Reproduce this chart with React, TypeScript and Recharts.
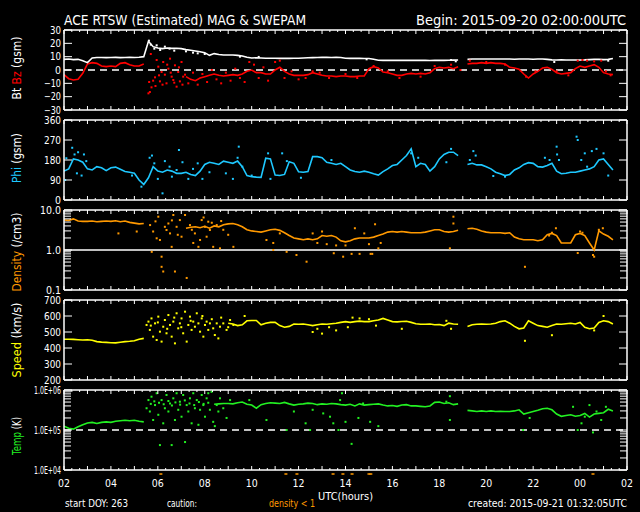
import React from "react";
import { ComposedChart, Line, Scatter, XAxis, YAxis, ReferenceLine } from "recharts";

const FONT = "'DejaVu Sans', sans-serif";
const W = 640;
const H = 512;
const PLOT_LEFT = 64;
const PLOT_RIGHT = 627;
const WHITE = "#ffffff";
const RED = "#ff0000";
const CYAN = "#1ec8ff";
const ORANGE = "#ff9900";
const YELLOW = "#ffff00";
const GREEN = "#22f022";

// trend arrays are sampled every 0.2 h, starting 02:00 UTC
const STEP = 0.2;

const hourTicks = [0, 2, 4, 6, 8, 10, 12, 14, 16, 18, 20, 22, 24];
const hourLabels = ["02", "04", "06", "08", "10", "12", "14", "16", "18", "20", "22", "00", "02"];

const bTicks = [-30, -20, -10, 0, 10, 20, 30];
const bLabels = ["\u221230", "\u221220", "\u221210", "0", "10", "20", "30"];
const phiTicks = [0, 90, 180, 270, 360];
const phiLabels = ["0", "90", "180", "270", "360"];
const densTicks = [0.1, 1, 10];
const densLabels = ["0.1", "1.0", "10.0"];
const densMinor = [0.2, 0.3, 0.4, 0.5, 0.6, 0.7, 0.8, 0.9, 2, 3, 4, 5, 6, 7, 8, 9];
const speedTicks = [200, 300, 400, 500, 600, 700];
const speedLabels = ["200", "300", "400", "500", "600", "700"];
const tempTicks = [1e4, 1e5, 1e6];
const tempLabels = ["1.0E+04", "1.0E+05", "1.0E+06"];
const tempMinor = [2e4, 3e4, 4e4, 5e4, 6e4, 7e4, 8e4, 9e4, 2e5, 3e5, 4e5, 5e5, 6e5, 7e5, 8e5, 9e5];

const btTrend = [
  8, 8.2, 7.8, 8, 7,
  5.5, 9, 9.4, 9.4, 9.3,
  9.4, 9.5, 9.3, 9.4, 9.5,
  9.4, 9.6, 10, 21.5, 17.5,
  16.5, 16, 16.5, 16.2, 16.3,
  16, 15.3, 14.8, 14.3, 13.7,
  13, 11, 12.3, 11.6, 11.3,
  11.3, 11.2, 11, 10.5, 9.5,
  9, 9.2, 9, 8.8, 8.8,
  8.8, 8.7, 8.8, 8.7, 8.8,
  8.8, 9, 9.2, 9.3, 9.4,
  9.5, 9.5, 9.4, 9.5, 9.4,
  8.8, 8.7, 8.7, 8.7, 8.6,
  8.6, 8, 7.3, 7.2, 7.2,
  7.2, 7.2, 7.2, 7.2, 7.2,
  7.2, 7.2, 7.2, 7.1, 7.2,
  7.2, 7.2, 7.3, 7.4, 7.5,
  null, 8, 8.2, 8.3, 8.3,
  8.3, 8.3, 8.2, 8.2, 8.2,
  8.2, 8.1, 8.2, 8.2, 8.2,
  8.1, 8.2, 8.2, 8, 7.6,
  7.5, 7.6, 7.5, 7.5, 7.5,
  7.5, 7.6, 7.8, 8, 8,
  7.8, 8, 8.6,
];

const btScatter = [
  [3.62, 22], [3.7, 19], [3.85, 16], [3.95, 18.5], [4.1, 15], [4.3, 17.5], [4.5, 16],
  [4.7, 14.5], [5.2, 14], [5.5, 13], [5.7, 12.5], [6.0, 12], [7.5, 10], [8.3, 9.8],
  [12.9, 8], [16.5, 7.5], [16.7, 6.5], [20.9, 6], [23.2, 7],
];

const bzTrend = [
  -3.5, -6.5, -7.5, -7, -2.5,
  4.5, 5.5, 5, 3, 2.5,
  3, 2.5, 5, 5.5, 4,
  3, 3, 4.5, null, null,
  null, null, null, null, null,
  null, -5, -7, -8, -6,
  -5, -4, -3, -4, -4.5,
  -4, -3.5, -4, -3, -1,
  0, -2, -2, -3, -3,
  0, 2, -1, -3, -4,
  -4, -4, -3.5, -2, -3,
  -4, -4.5, -4.5, -5, -4.5,
  -4.5, -5, -5, -4.5, -4.5,
  1, 2.5, 1.5, -1.5, -2,
  -3, -4, -4, -3, -2.5,
  -3, -2.5, -3, -2, 1,
  2, 1.5, 2, 1, 2.5,
  null, 4.5, 5, 5, 5.5,
  5, 5.5, 5, 5, 4.5,
  2, 1.5, 0.5, -3, -6,
  -3, -1, 1.5, 2, 0.5,
  -2, -3, -2.5, -2, 1,
  3, 2, 3, 4, 2,
  -2, -3, -3.5,
];

const bzScatter = [
  [3.6, -17.5], [3.66, -16.5], [3.73, -13], [3.8, -8], [3.88, -5.5], [3.95, 7.5], [4.02, 2.5],
  [4.09, -8.5], [4.16, -1.5], [4.23, 6], [4.3, -3.5], [4.37, -10], [4.45, 1], [4.52, 8.5],
  [4.59, -5], [4.66, -7.5], [4.73, 3.5], [4.8, -12.5], [4.87, -1.5], [4.94, -8.5], [5.01, 6],
  [5.08, -5], [5.16, -3.5], [3.63, -9], [3.7, 12], [3.9, -12], [4.05, -4], [4.2, -11],
  [4.4, 4], [4.55, -2], [4.7, -9.5], [4.9, 2], [5.05, -11],
  [5.3, -10], [5.5, -2], [5.7, -11], [5.9, -3], [6.1, -9], [6.3, 0], [6.5, -7], [6.7, -10],
  [6.9, -2], [7.1, -8], [7.3, 1], [7.5, -6], [7.7, -9], [7.9, 6], [8.1, 4], [8.3, -6],
  [8.5, 2], [8.7, -8], [9.0, 6], [9.2, 7], [9.4, -6], [9.7, -1], [10.0, -7], [10.3, -6],
  [10.6, -1], [10.9, -2], [11.3, -6], [12.0, -3], [12.5, -6], [13.2, 3], [13.8, -1],
  [14.3, -6], [15.2, -5], [15.8, 3], [16.5, 4], [16.9, 0], [17.3, 7], [18.0, 6], [18.8, 4],
  [19.7, -5], [20.1, -1], [21.0, -1], [21.5, -4], [21.9, 7], [22.1, 7.5], [22.3, 7],
  [22.6, 6.5], [22.9, 7], [23.1, -1], [23.3, -4],
];

const phiTrend = [
  130, 140, 185, 180, 170,
  140, 135, 150, 145, 132,
  145, 148, 138, 128, 125,
  120, 90, 70, 100, 150,
  130, 125, 135, 130, 120,
  120, 125, 115, 110, 130,
  160, 170, 165, 160, 175,
  170, 165, 175, 150, 110,
  105, 103, 102, 188, 185,
  112, 110, 115, 172, 165,
  127, 125, 128, 195, 195,
  190, 170, 165, 160, 165,
  150, 135, 128, 125, 130,
  125, 118, 112, 128, 140,
  155, 160, 180, 200, 230,
  150, 165, 160, 130, 150,
  185, 205, 215, 215, 200,
  null, 160, 165, 158, 158,
  150, 140, 125, 118, 110,
  115, 135, 145, 160, 168,
  165, 150, 148, 155, 165,
  130, 118, 120, 125, 125,
  130, 135, 140, 150, 180,
  185, 160, 135,
];

const phiScatter = [
  [0.05, 90], [0.1, 188], [0.35, 235], [0.45, 205], [0.55, 120], [0.6, 215], [0.75, 110],
  [0.85, 205], [0.95, 175], [2.9, 110], [3.3, 60], [3.65, 190], [3.75, 200], [3.85, 165],
  [4.0, 95], [4.2, 30], [4.3, 175], [4.5, 150], [4.6, 105], [4.8, 135], [4.9, 225],
  [5.05, 170], [5.3, 95], [5.5, 140], [5.7, 165], [5.9, 95], [6.2, 125], [6.9, 120],
  [7.2, 95], [7.4, 190], [7.45, 240], [7.6, 150], [8.0, 110], [8.7, 210], [8.8, 95],
  [9.3, 210], [9.5, 175], [10.1, 100], [11.4, 180], [14.8, 210], [15.1, 190], [16.3, 170],
  [16.5, 230], [17.3, 180], [17.45, 220], [17.55, 200], [18.3, 108], [18.8, 105],
  [20.5, 190], [20.7, 180], [21.0, 240], [21.02, 205], [21.1, 180], [21.85, 285],
  [21.9, 270], [22.05, 180], [22.2, 210], [22.3, 150], [22.5, 220], [22.7, 230],
  [23.0, 210], [23.2, 110],
];

const densTrend = [
  5.6, 5.5, 6, 5.3, 5.2,
  5.2, 5.3, 5.1, 5.2, 5.3,
  5.2, 5.4, 5.1, 5.3, 4.9,
  4.7, 4.5, 4.6, null, null,
  null, null, null, null, null,
  null, 3.5, 3.7, 3.8, 3.6,
  3.9, 3.5, 4.0, 3.8, 4.3,
  4.5, 4.6, 4.3, 3.8, 3.2,
  3.0, 2.9, 2.8, 3.0, 3.2,
  3.3, 3.1, 2.7, 2.3, 2.0,
  1.9, 1.8, 1.9, 1.8, 1.9,
  2.3, 2.2, 2.3, 2.1, 1.7,
  1.6, 1.7, 1.9, 2.0, 2.0,
  2.0, 2.1, 2.3, 2.5, 2.8,
  2.9, 2.8, 2.9, 2.8, 2.7,
  2.7, 2.7, 2.8, 3.0, 3.2,
  3.2, 2.9, 2.8, 2.9, 3.1,
  null, 3.4, 3.5, 3.3, 3.0,
  2.8, 2.7, 2.7, 2.7, 2.6,
  2.7, 2.1, 1.9, 1.8, 1.8,
  1.8, 1.7, 1.8, 2.4, 2.6,
  2.3, 1.5, 1.5, 1.5, 2.4,
  2.6, 2.3, 1.5, 1.0, 3.0,
  2.5, 2.2, 1.8,
];

const densScatter = [
  [4.02, 6.8], [3.67, 4.2], [3.8, 2.9], [3.95, 1.96], [4.09, 1.78], [4.16, 0.68], [4.16, 0.38],
  [4.23, 0.29], [4.37, 3.16], [4.45, 4.6], [4.52, 2.6], [4.59, 1.2], [4.66, 7.5], [4.73, 0.29],
  [4.8, 3.8], [4.94, 5.6], [5.01, 2.15], [5.16, 7.5], [5.23, 0.2], [5.37, 4.2], [5.51, 1.5],
  [5.58, 2.6], [5.73, 1.2], [5.8, 1.78], [5.87, 5.6], [6.01, 3.8], [6.08, 2.15], [6.15, 5.1],
  [6.22, 3.16], [6.36, 1.2], [6.51, 4.2], [6.65, 1.1], [6.79, 3.2], [7.22, 1.2], [3.74, 0.9],
  [2.32, 2.6], [3.1, 2.9], [3.9, 5.2], [4.3, 3.8], [4.6, 5.5], [4.85, 2.4], [5.45, 3.2],
  [5.95, 6.5], [6.3, 4.8], [6.7, 5.3], [7.0, 2.4], [8.63, 1.78], [8.92, 1.0], [8.92, 1.5],
  [9.49, 0.9], [9.91, 0.75], [10.34, 0.51], [9.2, 2.6], [10.6, 2.6], [10.8, 1.5], [11.0, 2.9],
  [11.2, 1.4], [11.5, 0.83], [11.6, 1.3], [11.9, 0.68], [12.0, 1.3], [12.26, 0.8], [12.4, 3.5],
  [12.6, 0.8], [12.8, 2.6], [13.0, 1.4], [13.07, 0.8], [13.14, 0.8], [13.26, 4.4], [13.4, 1.1],
  [13.5, 1.5], [16.45, 1.1], [16.6, 6.8], [16.6, 4.6], [19.65, 0.38], [20.68, 2.3],
  [20.8, 2.7], [20.97, 3.5], [21.9, 0.84], [22.0, 2.9], [22.1, 2.7], [22.55, 0.75],
  [22.6, 0.68], [22.8, 3.2], [22.97, 3.5],
];

const speedTrend = [
  455, 455, 454, 452, 450,
  452, 448, 440, 437, 435,
  433, 432, 436, 440, 442,
  445, 455, 460, null, null,
  null, null, null, null, null,
  null, null, null, null, null,
  null, null, null, null, null,
  555, 550, 540, 545, 570,
  572, 572, 545, 555, 560,
  560, 540, 530, 535, 550,
  548, 550, 545, 540, 545,
  550, 548, 552, 555, 560,
  565, 560, 565, 568, 565,
  565, 570, 575, 585, 575,
  565, 563, 566, 567, 560,
  552, 548, 548, 550, 545,
  547, 540, 555, 550, 548,
  null, 535, 545, 548, 550,
  548, 550, 555, 565, 570,
  555, 535, 520, 525, 570,
  555, 540, 535, 530, 540,
  550, 548, 552, 555, 550,
  560, 530, 520, 525, 560,
  570, 565, 550,
];

const speedScatter = [
  [3.52, 544], [3.6, 565], [3.66, 513], [3.73, 585], [3.8, 471], [3.88, 554], [3.95, 450],
  [4.02, 596], [4.09, 502], [4.16, 440], [4.23, 533], [4.3, 575], [4.37, 492], [4.45, 606],
  [4.52, 544], [4.59, 471], [4.66, 565], [4.73, 429], [4.8, 617], [4.87, 523], [4.94, 554],
  [5.01, 585], [5.08, 492], [5.16, 627], [5.23, 440], [5.3, 544], [5.37, 596], [5.44, 513],
  [5.51, 565], [5.58, 533], [5.66, 617], [5.73, 554], [5.8, 502], [5.87, 585], [5.94, 471],
  [6.01, 544], [6.08, 565], [6.15, 513], [6.22, 554], [6.36, 523], [6.43, 481], [6.51, 554],
  [6.58, 460], [6.65, 533], [6.79, 554], [6.93, 513], [7.08, 575], [7.22, 544],
  [3.7, 540], [4.0, 560], [4.4, 520], [4.7, 590], [5.0, 530], [5.4, 570], [5.9, 600],
  [6.3, 580], [6.7, 590], [7.0, 530], [7.7, 600], [10.6, 500], [10.8, 520], [11.0, 490],
  [11.3, 530], [11.6, 510], [12.1, 530], [12.3, 590], [12.6, 585], [13.0, 580], [13.3, 540],
  [14.4, 520], [16.3, 570], [16.5, 520], [19.65, 445], [20.8, 480], [22.6, 510], [23.0, 600],
];

const tempTrend = [
  1.25e5, 1.1e5, 1.05e5, 1.2e5, 1.35e5,
  1.5e5, 1.55e5, 1.45e5, 1.55e5, 1.6e5,
  1.55e5, 1.65e5, 1.7e5, 1.75e5, 1.7e5,
  1.75e5, 1.65e5, 1.6e5, null, null,
  null, null, null, null, null,
  null, null, null, null, null,
  null, null, 4.4e5, 4.5e5, 4.6e5,
  4.6e5, 4.5e5, 4.8e5, 5.0e5, 4.4e5,
  4.2e5, 3.5e5, 4.3e5, 4.6e5, 4.8e5,
  4.7e5, 4.6e5, 4.9e5, 4.5e5, 4.2e5,
  4.4e5, 4.5e5, 4.7e5, 4.6e5, 4.3e5,
  4.5e5, 4.4e5, 4.6e5, 4.5e5, 4.3e5,
  4.2e5, 4.4e5, 4.0e5, 4.5e5, 4.2e5,
  4.3e5, 4.4e5, 4.5e5, 4.2e5, 4.0e5,
  4.1e5, 3.9e5, 4.2e5, 4.3e5, 4.0e5,
  4.0e5, 3.9e5, 3.8e5, 4.0e5, 4.9e5,
  5.0e5, 4.6e5, 4.8e5, 4.3e5, 4.5e5,
  null, 3.1e5, 3.0e5, 2.9e5, 3.0e5,
  2.9e5, 3.0e5, 2.9e5, 2.95e5, 2.9e5,
  2.9e5, 3.0e5, 3.2e5, 2.5e5, 2.7e5,
  2.9e5, 3.1e5, 3.4e5, 3.5e5, 3.2e5,
  2.5e5, 2.2e5, 2.3e5, 2.4e5, 2.2e5,
  2.3e5, 2.6e5, 2.1e5, 2.5e5, 2.6e5,
  2.7e5, 3.3e5, 3.0e5,
];

const tempScatter = [
  [3.52, 3.5e5], [3.6, 5.6e5], [3.66, 2.9e5], [3.73, 6.8e5], [3.8, 1.78e5], [3.88, 4.2e5],
  [3.95, 8.3e5], [4.02, 2.4e5], [4.09, 0.42e5], [4.16, 5.6e5], [4.23, 1.47e5], [4.3, 3.5e5],
  [4.37, 7.5e5], [4.45, 2.9e5], [4.52, 4.6e5], [4.59, 0.42e5], [4.66, 6.2e5], [4.73, 1.78e5],
  [4.8, 8.3e5], [4.87, 3.2e5], [4.94, 5.1e5], [5.01, 2.15e5], [5.08, 7.5e5], [5.16, 0.5e5],
  [5.23, 4.2e5], [5.3, 2.9e5], [5.37, 6.2e5], [5.44, 1.47e5], [5.51, 8.3e5], [5.58, 3.5e5],
  [5.66, 5.6e5], [5.73, 1.35e5], [5.8, 3.2e5], [5.87, 7.5e5], [5.94, 4.2e5], [6.01, 2.15e5],
  [6.08, 6.2e5], [6.15, 8.3e5], [6.22, 3.2e5], [6.29, 9e5], [6.36, 1.6e5], [6.43, 1.25e5],
  [6.51, 4.2e5], [6.58, 2.9e5], [6.65, 6.2e5], [6.79, 3.5e5], [6.93, 2e5], [7.08, 5.6e5],
  [3.7, 4.5e5], [3.85, 5.2e5], [4.05, 4.8e5], [4.25, 4.4e5], [4.45, 5.3e5], [4.6, 4.1e5],
  [4.75, 4.9e5], [4.95, 4.3e5], [5.15, 5.5e5], [5.35, 4.6e5], [5.55, 4.2e5], [5.75, 5.0e5],
  [5.95, 4.5e5], [6.15, 4.8e5], [7.9, 5.6e5], [8.63, 1.78e5], [9.49, 1.0e5], [9.8, 2.9e5],
  [10.3, 1.47e5], [10.49, 1.0e5], [10.6, 3.2e5], [11.05, 2.6e5], [11.34, 2.15e5],
  [11.48, 1.47e5], [11.7, 1.0e5], [11.77, 5.6e5], [11.85, 8.3e5], [12.0, 1.6e5],
  [12.26, 0.45e5], [12.55, 2e5], [12.75, 4.6e5], [13.05, 1.6e5], [13.4, 1.25e5],
  [16.3, 5.1e5], [16.45, 1.78e5], [16.45, 7e5], [19.57, 1.0e5], [19.85, 2e5], [21.7, 3.8e5],
  [21.9, 1.0e5], [22.06, 1.47e5], [22.2, 2.15e5], [22.4, 4.2e5], [22.55, 0.87e5],
  [22.7, 2.9e5], [22.9, 1.78e5], [23.1, 3.8e5],
];

// hours where density dropped below 1 (orange marks under the last panel)
const cautionHours = [4.13, 9.46, 9.93, 11.47, 11.89, 12.28, 13.0, 13.08, 22.55];

// tick marks along the time edges: every 20 minutes, longer on the hour
const minorX = Array.from({ length: 73 }, (_, i) => i / 3);

const toSeries = (vals: (number | null)[]) => vals.map((v, i) => ({ t: Math.round(i * STEP * 100) / 100, v }));
const toPoints = (pairs: number[][]) => pairs.map(([t, v]) => ({ t, v }));

const frame = { stroke: WHITE, strokeWidth: 1.5 };
const isHour = (v: number) => Math.abs(v - Math.round(v)) < 1e-6;

const square = (color: string) => (p: any) =>
  p.cx == null ? <g /> : <rect x={p.cx - 1} y={p.cy - 1} width={2} height={2} fill={color} />;

type PanelProps = {
  top: number;
  bottom: number;
  domain: [number, number];
  log?: boolean;
  ticks: number[];
  labels: string[];
  labelWidths: number[];
  minor?: number[];
  showHours?: boolean;
  children: React.ReactNode;
};

function Panel(p: PanelProps) {
  const scale = p.log ? "log" : "linear";
  const yTicks = [...p.ticks, ...(p.minor || [])].sort((a, b) => a - b);

  const leftTick = (t: any) => {
    const v = t.payload.value;
    const i = p.ticks.indexOf(v);
    const len = i >= 0 ? 8 : 7;
    return (
      <g>
        <line x1={t.x} x2={t.x + len} y1={t.y} y2={t.y} stroke={WHITE} />
        {i >= 0 && (
          <text x={t.x - 3} y={t.y + 3.5} textAnchor="end" fill={WHITE} fontSize={10} fontFamily={FONT}
            textLength={p.labelWidths[i]} lengthAdjust="spacingAndGlyphs">
            {p.labels[i]}
          </text>
        )}
      </g>
    );
  };
  const rightTick = (t: any) => {
    const v = t.payload.value;
    const len = p.ticks.indexOf(v) >= 0 ? 8 : 7;
    return <line x1={t.x} x2={t.x - len} y1={t.y} y2={t.y} stroke={WHITE} />;
  };
  const bottomTick = (t: any) => {
    const v = t.payload.value;
    const len = isHour(v) ? 4 : 2;
    const li = p.showHours ? hourTicks.findIndex((h) => Math.abs(h - v) < 1e-6) : -1;
    return (
      <g>
        <line x1={t.x} x2={t.x} y1={t.y} y2={t.y - len} stroke={WHITE} />
        {li >= 0 && (
          <text x={t.x} y={t.y + 16.5} textAnchor="middle" fill={WHITE} fontSize={11} fontFamily={FONT}
            textLength={12} lengthAdjust="spacingAndGlyphs">
            {hourLabels[li]}
          </text>
        )}
      </g>
    );
  };
  const topTick = (t: any) => {
    const len = isHour(t.payload.value) ? 4 : 2;
    return <line x1={t.x} x2={t.x} y1={t.y} y2={t.y + len} stroke={WHITE} />;
  };

  const xCommon = {
    type: "number" as const, dataKey: "t", domain: [0, 24], allowDataOverflow: true, height: 1,
    ticks: minorX, interval: 0 as const, tickSize: 0, tickMargin: 0, tickLine: false, axisLine: frame,
  };
  const yCommon = {
    type: "number" as const, domain: p.domain, scale: scale as any, allowDataOverflow: true, width: 1,
    ticks: yTicks, interval: 0 as const, tickSize: 0, tickMargin: 0, tickLine: false, axisLine: frame,
  };
  return (
    <div style={{ position: "absolute", left: 0, top: 0 }}>
      <ComposedChart width={W} height={H}
        margin={{ top: p.top - 1, bottom: H - p.bottom - 1, left: PLOT_LEFT - 1, right: W - PLOT_RIGHT - 1 }}>
        <XAxis xAxisId="b" orientation="bottom" {...xCommon} tick={bottomTick} />
        <XAxis xAxisId="t" orientation="top" {...xCommon} tick={topTick} />
        <YAxis yAxisId="l" orientation="left" {...yCommon} tick={leftTick} />
        <YAxis yAxisId="r" orientation="right" {...yCommon} tick={rightTick} />
        {p.children}
      </ComposedChart>
    </div>
  );
}

function trend(vals: (number | null)[], color: string) {
  return (
    <Line xAxisId="b" yAxisId="l" data={toSeries(vals)} dataKey="v" stroke={color} strokeWidth={1.6}
      dot={false} connectNulls={false} isAnimationActive={false} />
  );
}

function cloud(pairs: number[][], color: string) {
  return (
    <Scatter xAxisId="b" yAxisId="l" data={toPoints(pairs)} dataKey="v" fill={color}
      shape={square(color)} isAnimationActive={false} />
  );
}

function SideLabel({ cy, len, parts }: { cy: number; len: number; parts: [string, string][] }) {
  return (
    <text x={21} y={cy} transform={`rotate(-90 21 ${cy})`} textAnchor="middle" fontSize={12}
      fontFamily={FONT} textLength={len} lengthAdjust="spacingAndGlyphs">
      {parts.map(([s, c], i) => (
        <tspan key={i} fill={c}>{s}</tspan>
      ))}
    </text>
  );
}

export default function App() {
  const dashed = { stroke: WHITE, strokeDasharray: "7 5", strokeWidth: 1.3 };
  return (
    <div style={{ position: "absolute", left: 0, top: 0, width: W, height: H, background: "#000", overflow: "hidden" }}>
      <Panel top={30} bottom={110} domain={[-30, 30]} ticks={bTicks} labels={bLabels}
        labelWidths={[17, 17, 17, 6, 11, 11, 11]}>
        <ReferenceLine xAxisId="b" yAxisId="l" y={0} {...dashed} />
        {cloud(bzScatter, RED)}
        {trend(bzTrend, RED)}
        {cloud(btScatter, WHITE)}
        {trend(btTrend, WHITE)}
      </Panel>
      <Panel top={120} bottom={200} domain={[0, 360]} ticks={phiTicks} labels={phiLabels}
        labelWidths={[6, 11, 17, 17, 17]}>
        {cloud(phiScatter, CYAN)}
        {trend(phiTrend, CYAN)}
      </Panel>
      <Panel top={210} bottom={290} domain={[0.1, 10]} log ticks={densTicks} labels={densLabels}
        labelWidths={[15, 15, 21]} minor={densMinor}>
        <ReferenceLine xAxisId="b" yAxisId="l" y={1} stroke={WHITE} strokeWidth={1.5} />
        {cloud(densScatter, ORANGE)}
        {trend(densTrend, ORANGE)}
      </Panel>
      <Panel top={300} bottom={380} domain={[200, 700]} ticks={speedTicks} labels={speedLabels}
        labelWidths={[17, 17, 17, 17, 17, 17]}>
        {cloud(speedScatter, YELLOW)}
        {trend(speedTrend, YELLOW)}
      </Panel>
      <Panel top={390} bottom={470} domain={[1e4, 1e6]} log ticks={tempTicks} labels={tempLabels}
        labelWidths={[27, 27, 27]} minor={tempMinor} showHours>
        <ReferenceLine xAxisId="b" yAxisId="l" y={1e5} {...dashed} />
        {cloud(tempScatter, GREEN)}
        {trend(tempTrend, GREEN)}
      </Panel>
      <div style={{ position: "absolute", left: 0, top: 0 }}>
        <ComposedChart width={W} height={H} margin={{ top: 472, bottom: H - 476, left: PLOT_LEFT, right: W - PLOT_RIGHT }}>
          <XAxis xAxisId="c" type="number" dataKey="t" domain={[0, 24]} hide />
          <YAxis yAxisId="c" type="number" domain={[-1, 1]} hide />
          <Scatter xAxisId="c" yAxisId="c" data={cautionHours.map((t) => ({ t, v: 0 }))} dataKey="v"
            isAnimationActive={false}
            shape={(p: any) => <rect x={p.cx - 1.5} y={p.cy - 0.75} width={3} height={1.5} fill={ORANGE} />} />
        </ComposedChart>
      </div>
      <svg width={W} height={H} style={{ position: "absolute", left: 0, top: 0, pointerEvents: "none" }}>
        <text x={64} y={25} fill={WHITE} fontSize={14} fontFamily={FONT} textLength={242} lengthAdjust="spacingAndGlyphs">
          ACE RTSW (Estimated) MAG &amp; SWEPAM
        </text>
        <text x={416} y={25} fill={WHITE} fontSize={14} fontFamily={FONT} textLength={210} lengthAdjust="spacingAndGlyphs">
          Begin: 2015-09-20 02:00:00UTC
        </text>
        <SideLabel cy={68} len={63} parts={[["Bt ", WHITE], ["Bz", RED], [" (gsm)", WHITE]]} />
        <SideLabel cy={158} len={50} parts={[["Phi", CYAN], [" (gsm)", WHITE]]} />
        <SideLabel cy={252} len={79} parts={[["Density", ORANGE], [" (/cm3)", WHITE]]} />
        <SideLabel cy={340} len={75} parts={[["Speed", YELLOW], [" (km/s)", WHITE]]} />
        <SideLabel cy={436} len={38} parts={[["Temp", GREEN], [" (K)", WHITE]]} />
        <text x={318} y={499.5} fill={WHITE} fontSize={10.5} fontFamily={FONT} textLength={55} lengthAdjust="spacingAndGlyphs">
          UTC(hours)
        </text>
        <text x={65} y={507} fill={WHITE} fontSize={10} fontFamily={FONT} textLength={63} lengthAdjust="spacingAndGlyphs">
          start DOY: 263
        </text>
        <text x={167} y={507} fill={WHITE} fontSize={10} fontFamily={FONT} textLength={30} lengthAdjust="spacingAndGlyphs">
          caution:
        </text>
        <text x={269} y={507} fill={ORANGE} fontSize={10} fontFamily={FONT} textLength={46} lengthAdjust="spacingAndGlyphs">
          density &lt; 1
        </text>
        <text x={468} y={507} fill={WHITE} fontSize={10} fontFamily={FONT} textLength={159} lengthAdjust="spacingAndGlyphs">
          created: 2015-09-21 01:32:05UTC
        </text>
      </svg>
    </div>
  );
}
